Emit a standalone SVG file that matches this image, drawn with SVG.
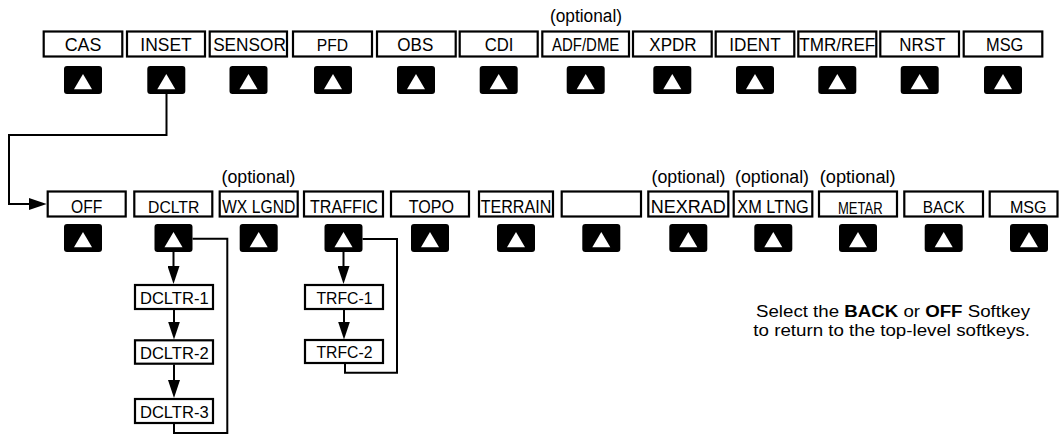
<svg xmlns="http://www.w3.org/2000/svg" width="1062" height="435" viewBox="0 0 1062 435">
<style>
.box{fill:#fff;stroke:#000;stroke-width:2.2}
.lbl{font-family:"Liberation Sans",Arial,Helvetica,sans-serif;font-size:18px;text-anchor:middle;fill:#000}
.opt{font-family:"Liberation Sans",Arial,Helvetica,sans-serif;font-size:18px;text-anchor:middle;fill:#000}
.note{font-family:"Liberation Sans",Arial,Helvetica,sans-serif;font-size:16px;text-anchor:middle;fill:#000}
.wire{fill:none;stroke:#000;stroke-width:2}
</style>
<defs>
<g id="btn"><rect x="-19" y="0" width="38" height="28" rx="3" fill="#000"/><path d="M0 8 L9 23.3 L-9 23.3 Z" fill="#fff"/></g>
<marker id="ah" viewBox="0 0 18 12" refX="14" refY="6" markerWidth="18" markerHeight="12" markerUnits="userSpaceOnUse" orient="auto"><path d="M0 0 L18 6 L0 12 Z" fill="#000"/></marker>
</defs>

<g id="connectors">
<path class="wire" d="M166.5 94 V135 H9 V204 H42.7" marker-end="url(#ah)"/>
<path class="wire" d="M173.5 252 V280" marker-end="url(#ah)"/>
<path class="wire" d="M174 310 V335.5" marker-end="url(#ah)"/>
<path class="wire" d="M174 364.5 V394" marker-end="url(#ah)"/>
<path class="wire" d="M192.5 238.7 H227.3 V433 H174 V423.5"/>
<path class="wire" d="M343.5 252 V280" marker-end="url(#ah)"/>
<path class="wire" d="M344 310 V335.5" marker-end="url(#ah)"/>
<path class="wire" d="M362.5 239 H397 V372.7 H345 V363.5"/>
</g>

<g id="optional-labels">
<text class="opt" x="586" y="21.5" textLength="72" lengthAdjust="spacingAndGlyphs">(optional)</text>
<text class="opt" x="258.5" y="182.5" textLength="74" lengthAdjust="spacingAndGlyphs">(optional)</text>
<text class="opt" x="688.5" y="182.5" textLength="74" lengthAdjust="spacingAndGlyphs">(optional)</text>
<text class="opt" x="772" y="182.5" textLength="74" lengthAdjust="spacingAndGlyphs">(optional)</text>
<text class="opt" x="857.7" y="182.5" textLength="76" lengthAdjust="spacingAndGlyphs">(optional)</text>
</g>

<g id="top-row">
<g id="k-cas"><rect class="box" x="43.7" y="31.5" width="78.6" height="25"/><text class="lbl" x="83" y="50.7" style="font-size:18.5px" textLength="36.7" lengthAdjust="spacingAndGlyphs">CAS</text><use href="#btn" x="83" y="66"/></g>
<g id="k-inset"><rect class="box" x="127" y="31.5" width="78" height="25"/><text class="lbl" x="166" y="50.7" style="font-size:18.5px" textLength="51.3" lengthAdjust="spacingAndGlyphs">INSET</text><use href="#btn" x="166.3" y="66"/></g>
<g id="k-sensor"><rect class="box" x="209.7" y="31.5" width="77.3" height="25"/><text class="lbl" x="249.5" y="50.7" style="font-size:18.5px" textLength="72.7" lengthAdjust="spacingAndGlyphs">SENSOR</text><use href="#btn" x="248.5" y="66"/></g>
<g id="k-pfd"><rect class="box" x="293" y="31.5" width="79" height="25"/><text class="lbl" x="332.5" y="50.7" style="font-size:16.5px" textLength="31.3" lengthAdjust="spacingAndGlyphs">PFD</text><use href="#btn" x="333" y="66"/></g>
<g id="k-obs"><rect class="box" x="377" y="31.5" width="78.7" height="25"/><text class="lbl" x="415.3" y="50.7" textLength="36" lengthAdjust="spacingAndGlyphs">OBS</text><use href="#btn" x="416" y="66"/></g>
<g id="k-cdi"><rect class="box" x="459.7" y="31.5" width="78" height="25"/><text class="lbl" x="499" y="50.7" textLength="28.7" lengthAdjust="spacingAndGlyphs">CDI</text><use href="#btn" x="498.7" y="66"/></g>
<g id="k-adf"><rect class="box" x="542.3" y="31.5" width="86.7" height="25"/><text class="lbl" x="585.7" y="50.7" style="font-size:18.5px" textLength="67.3" lengthAdjust="spacingAndGlyphs">ADF/DME</text><use href="#btn" x="585.7" y="66"/></g>
<g id="k-xpdr"><rect class="box" x="633" y="31.5" width="78.7" height="25"/><text class="lbl" x="673" y="50.7" textLength="47.3" lengthAdjust="spacingAndGlyphs">XPDR</text><use href="#btn" x="672.3" y="66"/></g>
<g id="k-ident"><rect class="box" x="715.7" y="31.5" width="78.6" height="25"/><text class="lbl" x="755" y="50.7" textLength="51.3" lengthAdjust="spacingAndGlyphs">IDENT</text><use href="#btn" x="755" y="66"/></g>
<g id="k-tmr"><rect class="box" x="798.3" y="31.5" width="78" height="25"/><text class="lbl" x="837.3" y="50.7" textLength="76" lengthAdjust="spacingAndGlyphs">TMR/REF</text><use href="#btn" x="837.3" y="66"/></g>
<g id="k-nrst"><rect class="box" x="880.3" y="31.5" width="78.7" height="25"/><text class="lbl" x="922.3" y="50.7" textLength="46" lengthAdjust="spacingAndGlyphs">NRST</text><use href="#btn" x="919.7" y="66"/></g>
<g id="k-msg1"><rect class="box" x="963.7" y="31.5" width="78.6" height="25"/><text class="lbl" x="1004.7" y="51" style="font-size:17.5px" textLength="37.3" lengthAdjust="spacingAndGlyphs">MSG</text><use href="#btn" x="1003" y="66"/></g>
</g>

<g id="inset-row">
<g id="k-off"><rect class="box" x="47.7" y="191.5" width="78" height="25"/><text class="lbl" x="86.7" y="213.2" style="font-size:17.5px" textLength="31.3" lengthAdjust="spacingAndGlyphs">OFF</text><use href="#btn" x="83" y="224"/></g>
<g id="k-dcltr"><rect class="box" x="134.3" y="191.5" width="78" height="25"/><text class="lbl" x="173.7" y="213.2" style="font-size:17px" textLength="51.3" lengthAdjust="spacingAndGlyphs">DCLTR</text><use href="#btn" x="173.5" y="224"/></g>
<g id="k-wxlgnd"><rect class="box" x="219.7" y="191.5" width="78" height="25"/><text class="lbl" x="258.7" y="213.2" textLength="73.3" lengthAdjust="spacingAndGlyphs">WX LGND</text><use href="#btn" x="258.7" y="224"/></g>
<g id="k-traffic"><rect class="box" x="304" y="191.5" width="79" height="25"/><text class="lbl" x="344" y="213.2" textLength="68" lengthAdjust="spacingAndGlyphs">TRAFFIC</text><use href="#btn" x="343.5" y="224"/></g>
<g id="k-topo"><rect class="box" x="391" y="191.5" width="78" height="25"/><text class="lbl" x="431.3" y="213.2" style="font-size:17.5px" textLength="45.3" lengthAdjust="spacingAndGlyphs">TOPO</text><use href="#btn" x="430" y="224"/></g>
<g id="k-terrain"><rect class="box" x="479" y="191.5" width="74" height="25"/><text class="lbl" x="516" y="213.2" textLength="70.7" lengthAdjust="spacingAndGlyphs">TERRAIN</text><use href="#btn" x="516" y="224"/></g>
<g id="k-blank"><rect class="box" x="561.7" y="191.5" width="79.3" height="25"/><use href="#btn" x="601.3" y="224"/></g>
<g id="k-nexrad"><rect class="box" x="648.3" y="191.5" width="80" height="25"/><text class="lbl" x="688.2" y="213.2" style="font-size:18.5px" textLength="75" lengthAdjust="spacingAndGlyphs">NEXRAD</text><use href="#btn" x="688.3" y="224"/></g>
<g id="k-xmltng"><rect class="box" x="733.7" y="191.5" width="78.6" height="25"/><text class="lbl" x="773" y="213.2" textLength="71.3" lengthAdjust="spacingAndGlyphs">XM LTNG</text><use href="#btn" x="773.3" y="224"/></g>
<g id="k-metar"><rect class="box" x="819" y="191.5" width="78" height="25"/><text class="lbl" x="860.3" y="214" style="font-size:16.5px" textLength="44.7" lengthAdjust="spacingAndGlyphs">METAR</text><use href="#btn" x="858" y="224"/></g>
<g id="k-back"><rect class="box" x="904.3" y="191.5" width="78.7" height="25"/><text class="lbl" x="943.7" y="213.2" style="font-size:16.5px" textLength="42" lengthAdjust="spacingAndGlyphs">BACK</text><use href="#btn" x="943.7" y="224"/></g>
<g id="k-msg2"><rect class="box" x="989.7" y="191.5" width="67.8" height="25"/><text class="lbl" x="1028.3" y="213.2" style="font-size:17px" textLength="36.7" lengthAdjust="spacingAndGlyphs">MSG</text><use href="#btn" x="1029" y="224"/></g>
</g>

<g id="dcltr-1"><rect class="box" x="135" y="285" width="78" height="24"/><text class="lbl" x="174.3" y="303.5" style="font-size:17px" textLength="68.7" lengthAdjust="spacingAndGlyphs">DCLTR-1</text></g>
<g id="dcltr-2"><rect class="box" x="135" y="340.3" width="78" height="23.4"/><text class="lbl" x="174.3" y="358.5" style="font-size:17px" textLength="68.7" lengthAdjust="spacingAndGlyphs">DCLTR-2</text></g>
<g id="dcltr-3"><rect class="box" x="135" y="399" width="78" height="24"/><text class="lbl" x="174.3" y="417.5" style="font-size:17px" textLength="68.7" lengthAdjust="spacingAndGlyphs">DCLTR-3</text></g>
<g id="trfc-1"><rect class="box" x="305" y="285" width="78" height="24"/><text class="lbl" x="344.5" y="303.5" style="font-size:17px" textLength="56" lengthAdjust="spacingAndGlyphs">TRFC-1</text></g>
<g id="trfc-2"><rect class="box" x="305" y="340" width="78" height="23"/><text class="lbl" x="344.5" y="358" style="font-size:17px" textLength="56" lengthAdjust="spacingAndGlyphs">TRFC-2</text></g>

<g id="note">
<text class="note" x="893" y="316.5" textLength="274" lengthAdjust="spacingAndGlyphs">Select the <tspan font-weight="bold">BACK</tspan> or <tspan font-weight="bold">OFF</tspan> Softkey</text>
<text class="note" x="891.7" y="335.5" textLength="276.7" lengthAdjust="spacingAndGlyphs">to return to the top-level softkeys.</text>
</g>
</svg>
